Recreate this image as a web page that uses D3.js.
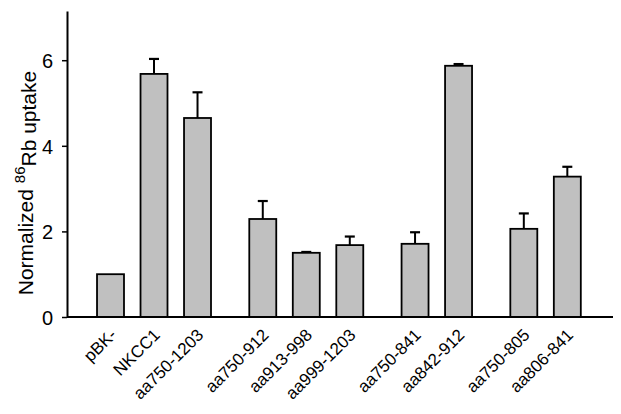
<!DOCTYPE html>
<html>
<head>
<meta charset="utf-8">
<script src="https://cdn.jsdelivr.net/npm/d3@7"></script>
<style>
  body { margin: 0; background: #fff; }
  text { font-family: Arial, "Liberation Sans", sans-serif; fill: #000; }
</style>
</head>
<body>
<div id="chart"></div>
<script>
// data
const labels = ["pBK-", "NKCC1", "aa750-1203", "aa750-912", "aa913-998", "aa999-1203",
                "aa750-841", "aa842-912", "aa750-805", "aa806-841"];
const groupOf = [0, 0, 0, 1, 1, 1, 2, 2, 3, 3];
const values = [1.00, 5.68, 4.65, 2.29, 1.50, 1.68, 1.71, 5.87, 2.06, 3.28];
const errors = [0, 0.35, 0.60, 0.42, 0.02, 0.20, 0.27, 0.04, 0.36, 0.23];
const yTicks = [0, 2, 4, 6];

const width = 621, height = 414;
const base = 317;

const svg = d3.select("#chart").append("svg")
  .attr("width", width)
  .attr("height", height);

// slot position: index plus half a slot per group gap
const slot = i => i + 0.5 * groupOf[i];

const xScale = d3.scaleLinear().domain([-1, 11.55]).range([67, 613]);
const yScale = d3.scaleLinear().domain([0, 7.15]).range([base, 11]);
const barW = xScale(0.62) - xScale(0);

// bars
svg.selectAll("rect.bar")
  .data(values)
  .enter().append("rect")
  .attr("class", "bar")
  .attr("x", (d, i) => xScale(slot(i)) - barW / 2)
  .attr("y", d => yScale(d))
  .attr("width", barW)
  .attr("height", d => base - yScale(d))
  .attr("fill", "#c0c0c0")
  .attr("stroke", "#000")
  .attr("stroke-width", 1.8);

// error bars (only where there is one)
const errIdx = d3.range(values.length).filter(i => errors[i] > 0);

const err = svg.selectAll("g.err")
  .data(errIdx)
  .enter().append("g")
  .attr("class", "err");

err.append("line")
  .attr("x1", i => xScale(slot(i)))
  .attr("x2", i => xScale(slot(i)))
  .attr("y1", i => yScale(values[i]))
  .attr("y2", i => yScale(values[i] + errors[i]))
  .attr("stroke", "#000")
  .attr("stroke-width", 2);

err.append("line")
  .attr("x1", i => xScale(slot(i)) - 5)
  .attr("x2", i => xScale(slot(i)) + 5)
  .attr("y1", i => yScale(values[i] + errors[i]))
  .attr("y2", i => yScale(values[i] + errors[i]))
  .attr("stroke", "#000")
  .attr("stroke-width", 2.2);

// y axis
const yAxis = d3.axisLeft(yScale)
  .tickValues(yTicks)
  .tickSize(5)
  .tickSizeOuter(0)
  .tickPadding(9);

const gy = svg.append("g")
  .attr("transform", "translate(67,0)")
  .call(yAxis);
gy.select(".domain").attr("stroke-width", 2);
gy.selectAll(".tick line").attr("stroke-width", 1.5);
gy.selectAll(".tick text")
  .style("font-size", "20px")
  .attr("dy", "0.36em");

// x axis line
svg.append("line")
  .attr("x1", xScale(-1))
  .attr("x2", xScale(11.55))
  .attr("y1", base)
  .attr("y2", base)
  .attr("stroke", "#000")
  .attr("stroke-width", 2);

// category labels
svg.selectAll("text.xlab")
  .data(labels)
  .enter().append("text")
  .attr("class", "xlab")
  .attr("text-anchor", "end")
  .style("font-size", "17px")
  .attr("transform", (d, i) => "translate(" + (xScale(slot(i)) + 7) + "," + (base + 19) + ") rotate(-45)")
  .text(d => d);

// y title
const title = svg.append("text")
  .attr("text-anchor", "middle")
  .attr("transform", "translate(33,183) rotate(-90)")
  .style("font-size", "21px");
title.append("tspan").text("Normalized ");
title.append("tspan").text("86").style("font-size", "15px").attr("dy", "-0.55em");
title.append("tspan").text("Rb uptake").attr("dy", "0.55em");
</script>
</body>
</html>
